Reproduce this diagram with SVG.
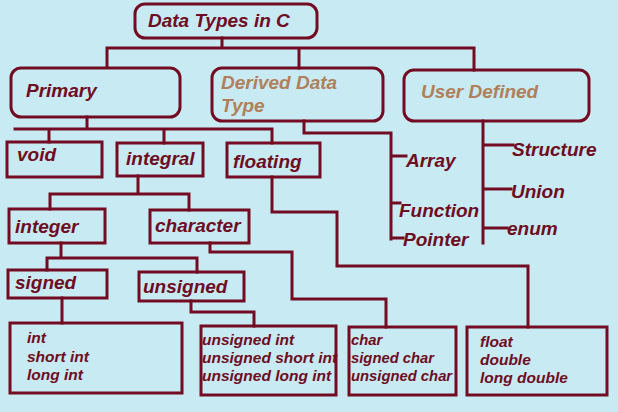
<svg xmlns="http://www.w3.org/2000/svg" width="618" height="412" viewBox="0 0 618 412">
<style>
.bx{fill:none;stroke:#730c22;stroke-width:3}
.ln{fill:none;stroke:#730c22;stroke-width:3;stroke-linejoin:miter;stroke-linecap:square}
text{font-family:"Liberation Sans",Arial,sans-serif;font-weight:bold;font-style:italic;fill:#6f0c22}
.t19{font-size:19px}
.tan{fill:#b1805a}
.t15{font-size:15.5px}
.t14{font-size:14.8px}
</style>
<rect width="618" height="412" fill="#c7eaf3"/>
<g id="connectors">
<path class="ln" d="M222,38 V48 M107,48 H474 M107,48 V67 M299,48 V68 M474,48 V70"/>
<path class="ln" d="M87,117 V129 M15,129 H272 M49,129 V142 M164,129 V143 M272,129 V143"/>
<path class="ln" d="M304,121 V133 H391 V239 M391,156 H406 M391,203 H400 M391,238 H403"/>
<path class="ln" d="M483,121 V243 M483,145 H513 M483,189 H511 M483,228 H507"/>
<path class="ln" d="M138,176 V194 M50,194 H189 M50,194 V209 M189,194 V210"/>
<path class="ln" d="M61,243 V258 M47,258 H197 M47,258 V270 M197,258 V272"/>
<path class="ln" d="M62,298 V323"/>
<path class="ln" d="M191,301 V312 H254 V326"/>
<path class="ln" d="M210,243 V252 H292 V299 H386 V327"/>
<path class="ln" d="M272,177 V212 H337 V266 H528 V327"/>
</g>
<g id="title"><rect class="bx" x="135" y="4" width="182" height="34" rx="10"/><text class="t19" x="148" y="27">Data Types in C</text></g>
<g id="primary"><rect class="bx" x="11" y="68" width="169" height="49" rx="10"/><text class="t19" x="26" y="97">Primary</text></g>
<g id="derived"><rect class="bx" x="212" y="68" width="171" height="53" rx="10"/><text class="t19 tan" x="221" y="89">Derived Data</text><text class="t19 tan" x="221" y="112">Type</text></g>
<g id="user"><rect class="bx" x="404" y="70" width="185" height="51" rx="10"/><text class="t19 tan" x="421" y="98">User Defined</text></g>
<g id="void"><rect class="bx" x="7" y="142" width="95" height="35"/><text class="t19" x="17" y="161">void</text></g>
<g id="integral"><rect class="bx" x="117" y="143" width="86" height="33"/><text class="t19" x="126" y="165">integral</text></g>
<g id="floating"><rect class="bx" x="227" y="143" width="93" height="34"/><text class="t19" x="233" y="168">floating</text></g>
<g id="integer"><rect class="bx" x="9" y="209" width="96" height="34"/><text class="t19" x="15" y="233">integer</text></g>
<g id="character"><rect class="bx" x="150" y="210" width="99" height="33"/><text class="t19" x="155" y="232">character</text></g>
<g id="signed"><rect class="bx" x="8" y="270" width="99" height="28"/><text class="t19" x="15" y="289">signed</text></g>
<g id="unsigned"><rect class="bx" x="139" y="272" width="105" height="29"/><text class="t19" x="143" y="293">unsigned</text></g>
<g id="array"><text class="t19" x="406" y="167">Array</text></g>
<g id="function"><text class="t19" x="399" y="217">Function</text></g>
<g id="pointer"><text class="t19" x="403" y="246">Pointer</text></g>
<g id="structure"><text class="t19" x="512" y="156">Structure</text></g>
<g id="union"><text class="t19" x="511" y="198">Union</text></g>
<g id="enum"><text class="t19" x="507" y="235">enum</text></g>
<g id="signed-list"><rect class="bx" x="10" y="323" width="172" height="70"/><text class="t15" x="27" y="343">int</text><text class="t15" x="27" y="362">short int</text><text class="t15" x="27" y="380">long int</text></g>
<g id="unsigned-list"><rect class="bx" x="201" y="326" width="135" height="69"/><text class="t15" x="202" y="345">unsigned int</text><text class="t15" x="202" y="363">unsigned short int</text><text class="t15" x="202" y="381">unsigned long int</text></g>
<g id="char-list"><rect class="bx" x="349" y="327" width="107" height="68"/><text class="t14" x="351" y="345">char</text><text class="t14" x="351" y="363">signed char</text><text class="t14" x="351" y="381">unsigned char</text></g>
<g id="float-list"><rect class="bx" x="467" y="327" width="140" height="68"/><text class="t15" x="480" y="347">float</text><text class="t15" x="480" y="365">double</text><text class="t15" x="480" y="383">long double</text></g>
</svg>
